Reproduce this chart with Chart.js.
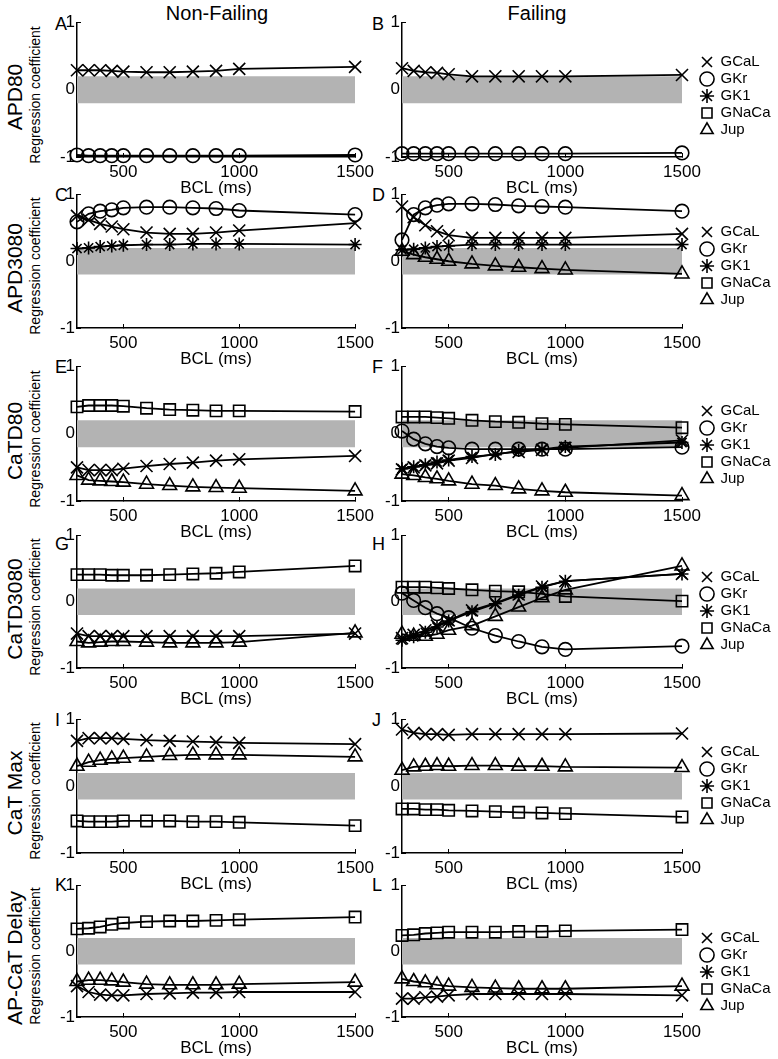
<!DOCTYPE html>
<html><head><meta charset="utf-8">
<script src="https://cdn.jsdelivr.net/npm/chart.js@4.4.1/dist/chart.umd.min.js"></script>
<style>
html,body{margin:0;padding:0;background:#fff;width:778px;height:1059px;overflow:hidden;position:relative;font-family:"Liberation Sans",Arial,sans-serif;}
canvas{position:absolute;}
.t{position:absolute;white-space:nowrap;color:#000;line-height:1;}
.rot{transform:translate(-50%,-50%) rotate(-90deg);}
.ctr{transform:translate(-50%,-50%);}
.lft{transform:translate(0,-50%);}
</style></head><body>
<script>
// ---------------- DATA ----------------
const BCL = [300, 350, 400, 450, 500, 600, 700, 800, 900, 1000, 1500];
const X_TICKS = [500, 1000, 1500];
const Y_TICKS = [-1, 0, 1];
const BAND = [-0.2, 0.2];
const SERIES = ['GCaL', 'GKr', 'GK1', 'GNaCa', 'Jup'];
const COLUMN_TITLES = ['Non-Failing', 'Failing'];
const ROW_LABELS = ['APD80', 'APD3080', 'CaTD80', 'CaTD3080', 'CaT Max', 'AP-CaT Delay'];
const PANEL_LETTERS = [['A', 'B'], ['C', 'D'], ['E', 'F'], ['G', 'H'], ['I', 'J'], ['K', 'L']];
const Y_TITLE = 'Regression coefficient';
const X_TITLE = 'BCL (ms)';

// A: APD80, Non-Failing
const A_GCaL = [0.29, 0.29, 0.29, 0.28, 0.27, 0.26, 0.26, 0.27, 0.28, 0.31, 0.34];
const A_GKr = [-0.97, -0.98, -0.98, -0.98, -0.98, -0.98, -0.98, -0.98, -0.98, -0.98, -0.97];
// B: APD80, Failing
const B_GCaL = [0.32, 0.28, 0.26, 0.25, 0.23, 0.20, 0.20, 0.20, 0.20, 0.20, 0.22];
const B_GKr = [-0.95, -0.95, -0.95, -0.95, -0.95, -0.95, -0.95, -0.95, -0.95, -0.95, -0.94];
// C: APD3080, Non-Failing
const C_GCaL = [0.68, 0.62, 0.56, 0.52, 0.48, 0.43, 0.41, 0.41, 0.43, 0.46, 0.57];
const C_GKr = [0.59, 0.71, 0.75, 0.77, 0.80, 0.81, 0.81, 0.80, 0.79, 0.76, 0.70];
const C_GK1 = [0.19, 0.20, 0.22, 0.23, 0.24, 0.25, 0.25, 0.26, 0.26, 0.26, 0.25];
// D: APD3080, Failing
const D_GCaL = [0.82, 0.66, 0.54, 0.45, 0.39, 0.35, 0.35, 0.35, 0.35, 0.35, 0.41];
const D_GKr = [0.32, 0.70, 0.80, 0.84, 0.86, 0.86, 0.85, 0.83, 0.82, 0.81, 0.75];
const D_GK1 = [0.17, 0.18, 0.20, 0.22, 0.23, 0.25, 0.25, 0.25, 0.25, 0.25, 0.25];
const D_Jup = [0.15, 0.10, 0.06, 0.03, 0.00, -0.04, -0.07, -0.09, -0.11, -0.13, -0.19];
// E: CaTD80, Non-Failing
const E_GCaL = [-0.50, -0.54, -0.54, -0.54, -0.52, -0.48, -0.45, -0.43, -0.40, -0.38, -0.33];
const E_GNaCa = [0.40, 0.42, 0.42, 0.42, 0.41, 0.38, 0.36, 0.35, 0.34, 0.34, 0.33];
const E_Jup = [-0.62, -0.69, -0.70, -0.71, -0.72, -0.75, -0.77, -0.79, -0.80, -0.81, -0.85];
// F: CaTD80, Failing
const F_GCaL = [-0.53, -0.50, -0.47, -0.44, -0.40, -0.36, -0.30, -0.27, -0.24, -0.21, -0.10];
const F_GKr = [0.04, -0.08, -0.15, -0.19, -0.21, -0.23, -0.23, -0.23, -0.23, -0.23, -0.20];
const F_GK1 = [-0.52, -0.49, -0.46, -0.42, -0.39, -0.34, -0.31, -0.25, -0.23, -0.19, -0.13];
const F_GNaCa = [0.25, 0.25, 0.25, 0.24, 0.23, 0.20, 0.18, 0.17, 0.15, 0.14, 0.09];
const F_Jup = [-0.60, -0.62, -0.65, -0.67, -0.70, -0.75, -0.77, -0.82, -0.85, -0.87, -0.92];
// G: CaTD3080, Non-Failing
const G_GCaL = [-0.48, -0.52, -0.52, -0.52, -0.52, -0.52, -0.52, -0.52, -0.52, -0.52, -0.48];
const G_GNaCa = [0.41, 0.41, 0.41, 0.40, 0.40, 0.40, 0.41, 0.42, 0.43, 0.45, 0.54];
const G_Jup = [-0.60, -0.62, -0.61, -0.60, -0.60, -0.61, -0.62, -0.62, -0.62, -0.61, -0.47];
// H: CaTD3080, Failing
const H_GCaL = [-0.55, -0.50, -0.43, -0.36, -0.28, -0.13, -0.02, 0.11, 0.23, 0.31, 0.42];
const H_GKr = [0.13, 0.02, -0.09, -0.18, -0.24, -0.40, -0.51, -0.60, -0.68, -0.72, -0.67];
const H_GK1 = [-0.58, -0.53, -0.46, -0.38, -0.29, -0.15, -0.03, 0.10, 0.22, 0.31, 0.42];
const H_GNaCa = [0.22, 0.22, 0.22, 0.21, 0.20, 0.18, 0.16, 0.15, 0.12, 0.08, 0.01];
const H_Jup = [-0.49, -0.52, -0.52, -0.49, -0.43, -0.36, -0.22, -0.08, 0.06, 0.18, 0.54];
// I: CaT Max, Non-Failing
const I_GCaL = [0.68, 0.72, 0.72, 0.72, 0.71, 0.69, 0.68, 0.67, 0.66, 0.65, 0.63];
const I_GNaCa = [-0.52, -0.53, -0.53, -0.53, -0.52, -0.52, -0.52, -0.53, -0.53, -0.54, -0.59];
const I_Jup = [0.30, 0.36, 0.39, 0.41, 0.42, 0.44, 0.46, 0.47, 0.47, 0.47, 0.44];
// J: CaT Max, Failing
const J_GCaL = [0.85, 0.80, 0.78, 0.78, 0.77, 0.78, 0.78, 0.78, 0.78, 0.78, 0.79];
const J_GNaCa = [-0.34, -0.34, -0.35, -0.35, -0.36, -0.37, -0.38, -0.39, -0.40, -0.41, -0.46];
const J_Jup = [0.24, 0.29, 0.30, 0.31, 0.30, 0.31, 0.31, 0.30, 0.30, 0.29, 0.28];
// K: AP-CaT Delay, Non-Failing
const K_GCaL = [-0.53, -0.62, -0.66, -0.67, -0.67, -0.65, -0.64, -0.63, -0.63, -0.62, -0.62];
const K_GNaCa = [0.34, 0.35, 0.37, 0.41, 0.43, 0.45, 0.46, 0.46, 0.47, 0.48, 0.52];
const K_Jup = [-0.46, -0.44, -0.44, -0.45, -0.47, -0.50, -0.51, -0.51, -0.51, -0.50, -0.47];
// L: AP-CaT Delay, Failing
const L_GCaL = [-0.72, -0.72, -0.70, -0.69, -0.67, -0.65, -0.65, -0.65, -0.65, -0.65, -0.67];
const L_GNaCa = [0.24, 0.25, 0.27, 0.28, 0.29, 0.29, 0.29, 0.30, 0.30, 0.31, 0.33];
const L_Jup = [-0.42, -0.46, -0.48, -0.51, -0.53, -0.55, -0.56, -0.57, -0.57, -0.57, -0.53];

const PANELS = [
  {row: 0, col: 0, series: {GCaL: A_GCaL, GKr: A_GKr}},
  {row: 0, col: 1, series: {GCaL: B_GCaL, GKr: B_GKr}},
  {row: 1, col: 0, series: {GCaL: C_GCaL, GKr: C_GKr, GK1: C_GK1}},
  {row: 1, col: 1, series: {GCaL: D_GCaL, GKr: D_GKr, GK1: D_GK1, Jup: D_Jup}},
  {row: 2, col: 0, series: {GCaL: E_GCaL, GNaCa: E_GNaCa, Jup: E_Jup}},
  {row: 2, col: 1, series: {GCaL: F_GCaL, GKr: F_GKr, GK1: F_GK1, GNaCa: F_GNaCa, Jup: F_Jup}},
  {row: 3, col: 0, series: {GCaL: G_GCaL, GNaCa: G_GNaCa, Jup: G_Jup}},
  {row: 3, col: 1, series: {GCaL: H_GCaL, GKr: H_GKr, GK1: H_GK1, GNaCa: H_GNaCa, Jup: H_Jup}},
  {row: 4, col: 0, series: {GCaL: I_GCaL, GNaCa: I_GNaCa, Jup: I_Jup}},
  {row: 4, col: 1, series: {GCaL: J_GCaL, GNaCa: J_GNaCa, Jup: J_Jup}},
  {row: 5, col: 0, series: {GCaL: K_GCaL, GNaCa: K_GNaCa, Jup: K_Jup}},
  {row: 5, col: 1, series: {GCaL: L_GCaL, GNaCa: L_GNaCa, Jup: L_Jup}}
];

// ---------------- LAYOUT & STYLE ----------------
const FONT = '"Liberation Sans", Arial, sans-serif';
const ROW_BOX = [[22, 157], [194, 328], [366, 501], [535, 668], [719, 853], [885, 1017]];
const COL_BOX = [[77, 357], [402, 682]];
const CANVAS_X = [[0, 385], [318, 460]];
const LEGEND_FIRST_Y = [62, 232, 411, 577, 752, 938];
const LEGEND_GAP = 17;
const LETTER_Y = [24, 195, 367, 544, 720, 885];
const LETTER_X = [55, 372];
const STYLE = {
  GCaL: {pointStyle: 'crossRot', radius: 8.5},
  GKr: {pointStyle: 'circle', radius: 6.8},
  GK1: {pointStyle: 'star', radius: 6.5},
  GNaCa: {pointStyle: 'rect', radius: 8},
  Jup: {pointStyle: 'triangle', radius: 8}
};
const BAND_COLOR = 'rgb(179,179,179)';

function addText(text, x, y, size, cls) {
  const d = document.createElement('div');
  d.className = 't ' + cls;
  d.textContent = text;
  d.style.left = x + 'px';
  d.style.top = y + 'px';
  d.style.fontSize = size + 'px';
  document.body.appendChild(d);
}

addText(COLUMN_TITLES[0], 217, 13, 20, 'ctr');
addText(COLUMN_TITLES[1], 537, 13, 20, 'ctr');
ROW_BOX.forEach(([t, b], r) => {
  const mid = (t + b) / 2;
  addText(ROW_LABELS[r], 14, mid + 7, 21, 'rot');
  addText(Y_TITLE, 34.5, mid + 5, 14, 'rot');
  addText(PANEL_LETTERS[r][0], LETTER_X[0], LETTER_Y[r], 18, 'lft');
  addText(PANEL_LETTERS[r][1], LETTER_X[1], LETTER_Y[r], 18, 'lft');
});

const axisTicks = (vals) => (s) => { s.ticks = vals.map(v => ({value: v})); };

function makeChart(panel) {
  const [top, bottom] = ROW_BOX[panel.row];
  const [left, right] = COL_BOX[panel.col];
  const isRight = panel.col === 1;
  const [cLeft, cWidth] = CANVAS_X[panel.col];
  const cTop = top - 14;
  const cHeight = bottom - cTop + 50;
  const cv = document.createElement('canvas');
  cv.width = cWidth; cv.height = cHeight;
  cv.style.left = cLeft + 'px'; cv.style.top = cTop + 'px';
  cv.style.width = cWidth + 'px'; cv.style.height = cHeight + 'px';
  document.body.appendChild(cv);

  const datasets = SERIES.map(name => {
    const vals = panel.series[name];
    return {
      label: name,
      data: vals ? BCL.map((x, i) => ({x: x, y: vals[i]})) : [],
      borderColor: '#000', backgroundColor: 'rgba(0,0,0,0)', borderWidth: 1.8,
      pointStyle: STYLE[name].pointStyle, pointRadius: STYLE[name].radius,
      pointHoverRadius: STYLE[name].radius,
      pointBorderColor: '#000', pointBackgroundColor: 'rgba(0,0,0,0)', pointBorderWidth: 1.6,
      tension: 0, clip: false, order: 1, fill: false
    };
  });
  datasets.push({
    label: '', data: [{x: BCL[0], y: BAND[1]}, {x: BCL[BCL.length - 1], y: BAND[1]}],
    fill: {value: BAND[0]}, backgroundColor: BAND_COLOR, borderColor: 'rgba(0,0,0,0)',
    borderWidth: 0, pointRadius: 0, order: 10
  });

  const tickFont = {family: FONT, size: 17, lineHeight: 1};
  const grid = {display: true, drawOnChartArea: false, drawTicks: true, tickLength: -4, color: '#000', lineWidth: 1};
  const border = {display: true, color: '#000', width: 1.5};
  const scales = {
    x: {
      type: 'linear', min: BCL[0], max: BCL[BCL.length - 1],
      afterBuildTicks: axisTicks(X_TICKS),
      ticks: {autoSkip: false, maxRotation: 0, minRotation: 0, padding: 11, color: '#000', font: tickFont, callback: v => String(v)},
      grid: grid, border: border,
      title: {display: true, text: X_TITLE, color: '#000', font: {family: FONT, size: 17, lineHeight: 1}, padding: {top: -12, bottom: 0}}
    },
    y: {
      type: 'linear', min: Y_TICKS[0], max: Y_TICKS[Y_TICKS.length - 1], z: 1,
      afterBuildTicks: axisTicks(Y_TICKS),
      ticks: {padding: 6, color: '#000', font: tickFont, callback: v => String(v)},
      grid: grid, border: border
    }
  };
  if (isRight) {
    scales.gap = {
      type: 'linear', position: 'right', display: true,
      grid: {display: false}, ticks: {display: false}, border: {display: false},
      afterFit: s => { s.width = LEGEND_GAP; }
    };
  }

  const chart = new Chart(cv, {
    type: 'line',
    data: {datasets: datasets},
    options: {
      responsive: false, animation: false, devicePixelRatio: 1, events: [],
      layout: {padding: {left: isRight ? 60 : 40, right: 10, top: 14, bottom: 0}},
      scales: scales,
      plugins: {
        tooltip: {enabled: false},
        legend: {
          display: isRight, position: 'right', align: 'start', fullSize: false, maxWidth: 140,
          title: {display: true, text: '', padding: {top: 0, bottom: 0}, font: {size: 1, lineHeight: 1}},
          labels: {
            usePointStyle: true, boxWidth: 12, boxHeight: 10, padding: 2, color: '#000',
            font: {family: FONT, size: 15},
            filter: item => item.text !== ''
          }
        }
      }
    }
  });

  // align the chart area with the reference panel box
  const tgt = {left: left - cLeft, right: right - cLeft, top: top - cTop, bottom: bottom - cTop};
  for (let k = 0; k < 4; k++) {
    const a = chart.chartArea;
    const p = chart.options.layout.padding;
    const dl = tgt.left - a.left, dr = a.right - tgt.right, dt = tgt.top - a.top, db = a.bottom - tgt.bottom;
    if (Math.abs(dl) + Math.abs(dr) + Math.abs(dt) + Math.abs(db) < 0.2) break;
    chart.options.layout.padding = {left: p.left + dl, right: p.right + dr, top: p.top + dt, bottom: p.bottom + db};
    chart.update('none');
  }
  if (isRight) {
    const lg = chart.legend;
    const want = LEGEND_FIRST_Y[panel.row] - cTop;
    const padTop = Math.max(0, want - lg.top - 1 - 2 - 7.5);
    chart.options.plugins.legend.title.padding = {top: padTop, bottom: 0};
    chart.update('none');
  }
  return chart;
}

PANELS.forEach(makeChart);
</script>
</body></html>
